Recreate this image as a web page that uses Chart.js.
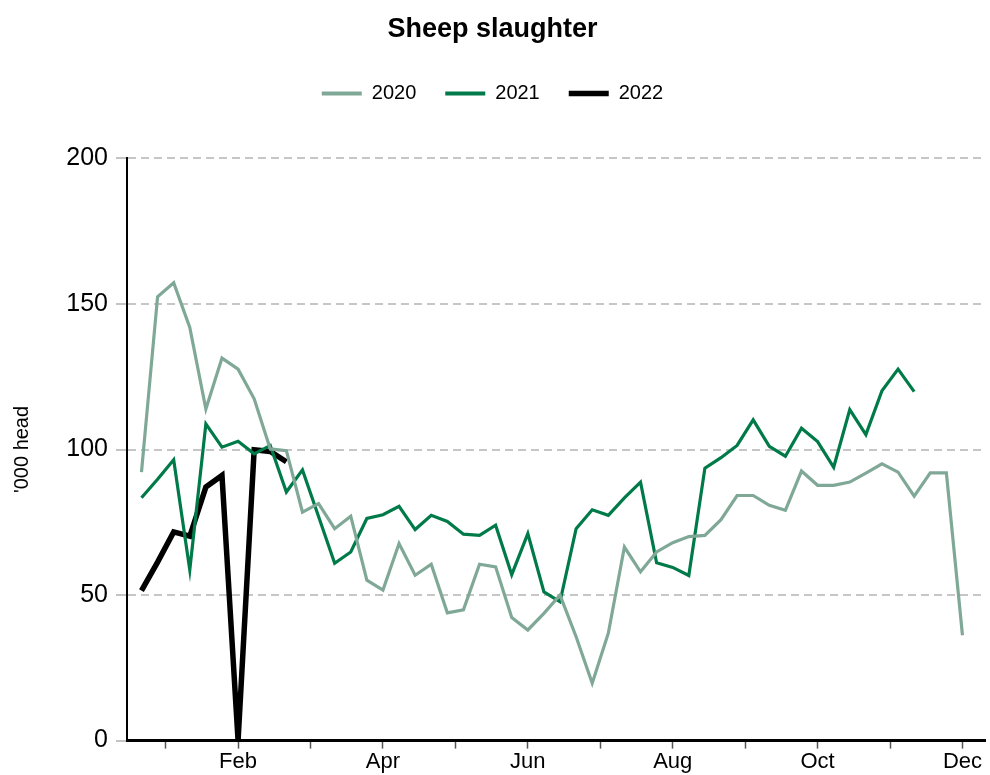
<!DOCTYPE html>
<html>
<head>
<meta charset="utf-8">
<script src="https://cdn.jsdelivr.net/npm/chart.js@4/dist/chart.umd.min.js"></script>
<style>
  html, body { margin: 0; padding: 0; background: #fff; }
  #wrap { width: 990px; height: 775px; }
</style>
</head>
<body>
<div id="wrap"><canvas id="chart"></canvas></div>
<script>
// weekly values, '000 head
const sheep2020 = [92.2, 152.5, 157.3, 141.9, 113.9, 131.4, 127.6, 117.4, 100.2, 99.6,
  78.5, 81.4, 72.8, 77.1, 55.1, 51.7, 67.7, 56.8, 60.6, 43.9,
  44.9, 60.6, 59.7, 42.3, 38.0, 43.7, 50.0, 35.7, 19.7, 36.9,
  66.5, 58.0, 64.8, 68.0, 70.1, 70.5, 75.9, 84.2, 84.2, 80.8,
  79.1, 92.6, 87.7, 87.7, 88.8, 91.9, 95.1, 92.2, 84.0, 92.0,
  92.0, 36.2]
const sheep2021 = [83.4, 89.8, 96.5, 58.6, 108.8, 100.8, 102.8, 98.5, 101.4, 85.4,
  93.0, 77.0, 60.9, 64.8, 76.3, 77.6, 80.5, 72.5, 77.4, 75.3,
  70.9, 70.5, 74.0, 57.0, 71.1, 51.1, 47.7, 72.8, 79.3, 77.4,
  83.4, 88.8, 61.1, 59.5, 56.7, 93.6, 97.2, 101.4, 110.2, 101.1,
  97.7, 107.3, 102.7, 93.9, 113.7, 105.1, 120.2, 127.6, 119.9]
const sheep2022 = [51.5, 61.3, 71.7, 70.2, 87.1, 91.1, 0, 99.9, 99.3, 95.8]

const monthLabels = ['', 'Feb', '', 'Apr', '', 'Jun', '', 'Aug', '', 'Oct', '', 'Dec']
const yTicks = [0, 50, 100, 150, 200]

const toPoints = (arr) => arr.map((v, i) => ({ x: i, y: v }))
const font = 'Liberation Sans, Arial, sans-serif'

// push the plot area down below the legend
const legendGap = {
  id: 'legendGap',
  beforeInit(chart) {
    const fit = chart.legend.fit
    chart.legend.fit = function () {
      fit.call(this)
      this.height += 45
    }
  }
}

const ctx = document.getElementById('chart').getContext('2d')
new Chart(ctx, {
  type: 'line',
  data: {
    datasets: [
      { label: '2020', data: toPoints(sheep2020), borderColor: '#80a897', borderWidth: 3.2 },
      { label: '2021', data: toPoints(sheep2021), borderColor: '#007a48', borderWidth: 3.2 },
      { label: '2022', data: toPoints(sheep2022), borderColor: '#000000', borderWidth: 5.5 }
    ]
  },
  options: {
    responsive: true,
    maintainAspectRatio: false,
    animation: false,
    layout: { padding: { left: 0, right: 5, top: 0, bottom: 0 } },
    elements: { point: { radius: 0 }, line: { borderJoinStyle: 'miter', tension: 0 } },
    plugins: {
      title: {
        display: true,
        text: 'Sheep slaughter',
        color: '#000',
        font: { family: font, size: 27, weight: 'bold' },
        padding: { top: 13, bottom: 9 }
      },
      legend: {
        display: true,
        labels: {
          usePointStyle: true,
          pointStyle: 'line',
          pointStyleWidth: 40,
          color: '#000',
          font: { family: font, size: 20 },
          padding: 29,
          generateLabels: (chart) => chart.data.datasets.map((ds, i) => ({
            text: ds.label,
            strokeStyle: ds.borderColor,
            fillStyle: ds.borderColor,
            lineWidth: i === 2 ? 5.5 : 4,
            pointStyle: 'line',
            datasetIndex: i,
            fontColor: '#000'
          }))
        }
      },
      tooltip: { enabled: false }
    },
    scales: {
      x: {
        type: 'linear',
        min: -0.9,
        max: 52.4,
        afterBuildTicks: (scale) => {
          scale.ticks = monthLabels.map((m, k) => ({ value: 1.5 + 4.5 * k, label: m }))
        },
        ticks: {
          autoSkip: false,
          maxRotation: 0,
          color: '#000',
          padding: 0,
          font: { family: font, size: 22 },
          callback: (value, index) => monthLabels[index]
        },
        grid: { drawOnChartArea: false, drawTicks: true, tickLength: 8, tickColor: '#555', tickWidth: 1.5 },
        border: { display: true, color: '#000', width: 3 }
      },
      y: {
        min: 0,
        max: 200,
        afterBuildTicks: (scale) => {
          scale.ticks = yTicks.map(v => ({ value: v }))
        },
        afterFit: (scale) => { scale.width = 127 },
        ticks: {
          color: '#000',
          padding: 8,
          font: { family: font, size: 25 }
        },
        grid: { color: '#c6c6c6', lineWidth: 2, tickLength: 11, tickColor: '#b0b0b0', tickWidth: 1.5 },
        border: { display: true, color: '#000', width: 2, dash: [8, 5] },
        title: {
          display: true,
          text: "'000 head",
          color: '#000',
          font: { family: font, size: 20 },
          padding: { top: 10, bottom: 0 }
        }
      }
    }
  },
  plugins: [legendGap]
})
</script>
</body>
</html>
